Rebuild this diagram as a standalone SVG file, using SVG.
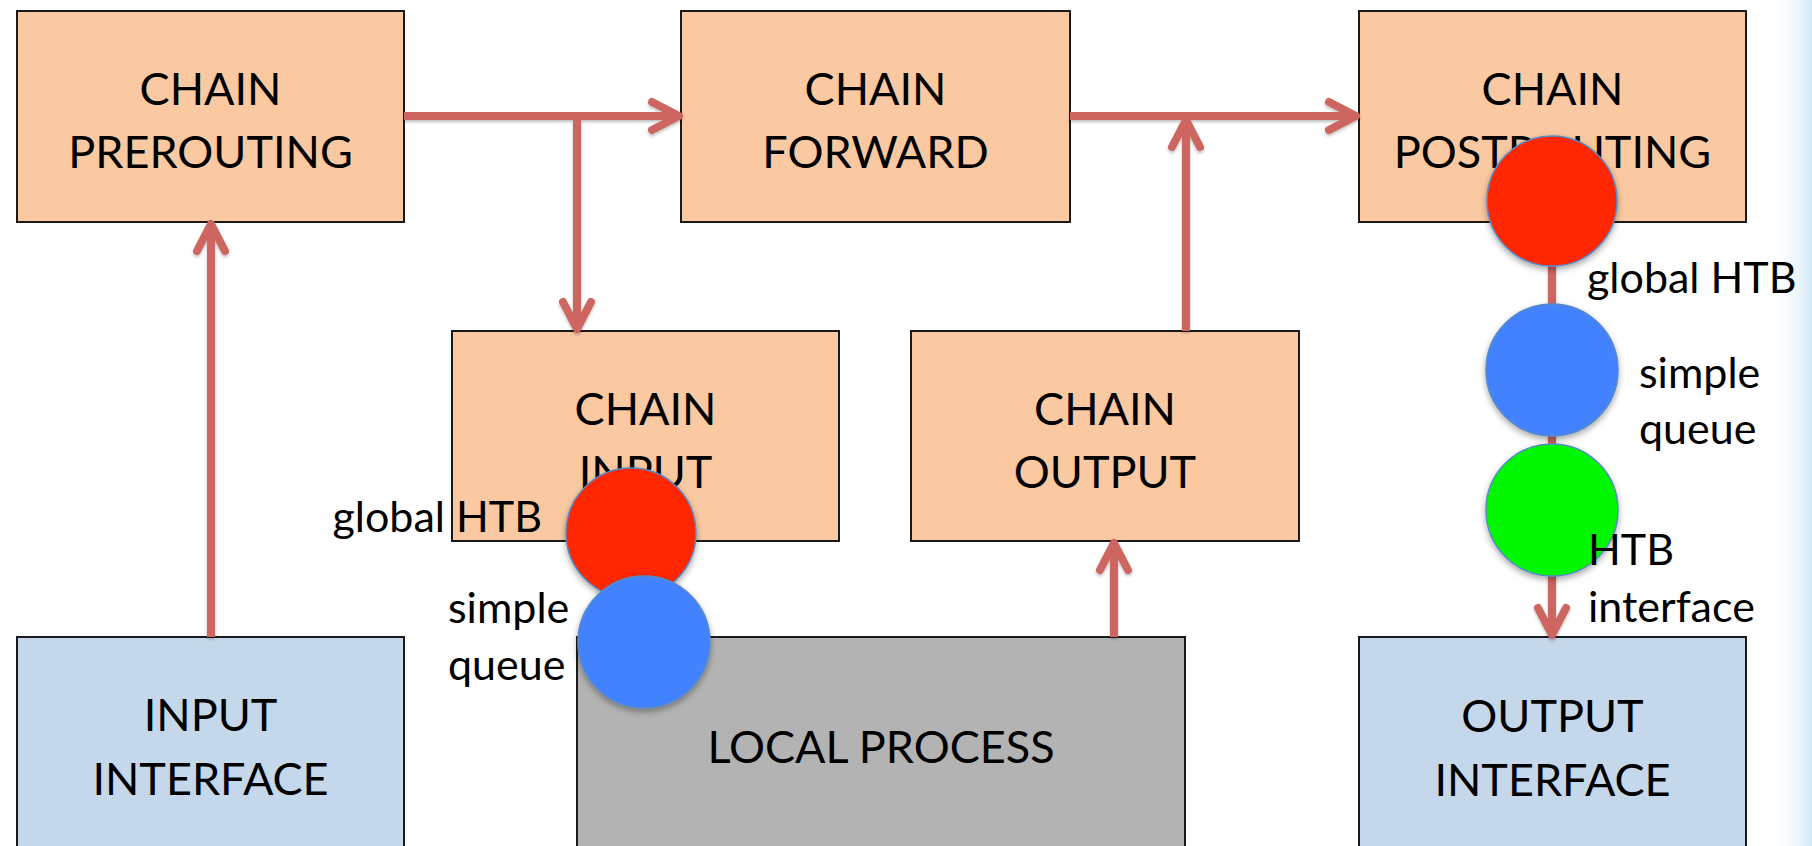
<svg xmlns="http://www.w3.org/2000/svg" width="1812" height="846" viewBox="0 0 1812 846">
  <style>
    .box { stroke: #1a1a1a; stroke-width: 2; }
    .chain { fill: #FAC9A1; }
    .iface { fill: #C5D8EB; }
    .proc { fill: #B3B3B3; }
    .label { font-family: Lato, "Open Sans", "Liberation Sans", sans-serif; font-size: 45px; fill: #000; text-anchor: middle; }
    .note { font-family: Lato, "Open Sans", "Liberation Sans", sans-serif; font-size: 43px; fill: #000; }
    .flow { fill: none; stroke: #CD6661; stroke-width: 8; }
    .dot { stroke: #5A8AC6; stroke-width: 1.5; }
  </style>
  <defs>
    <marker id="head" markerUnits="userSpaceOnUse" viewBox="-36 -22 42 44" refX="0" refY="0" markerWidth="42" markerHeight="44" orient="auto" overflow="visible">
      <path d="M-27,-14 L0,0 L-27,14" fill="none" stroke="#CD6661" stroke-width="8" stroke-linecap="round" stroke-linejoin="round"/>
    </marker>
    <filter id="lineShadow" x="-20%" y="-20%" width="140%" height="140%">
      <feDropShadow dx="0" dy="2" stdDeviation="1.5" flood-color="#000" flood-opacity="0.25"/>
    </filter>
    <filter id="dotShadow" x="-30%" y="-30%" width="160%" height="160%">
      <feDropShadow dx="0" dy="3" stdDeviation="3" flood-color="#000" flood-opacity="0.35"/>
    </filter>
    <linearGradient id="edgeHaze" x1="0" y1="0" x2="1" y2="0">
      <stop offset="0" stop-color="#FFFFFF" stop-opacity="0"/>
      <stop offset="1" stop-color="#D3E8F6"/>
    </linearGradient>
  </defs>

  <rect width="1812" height="846" fill="#FFFFFF"/>
  <rect x="1768" y="0" width="44" height="846" fill="url(#edgeHaze)"/>

  <!-- netfilter chains -->
  <g id="prerouting">
    <rect class="box chain" x="17" y="11" width="387" height="211"/>
    <text class="label" x="210.5" y="105">CHAIN</text>
    <text class="label" x="210.5" y="168">PREROUTING</text>
  </g>
  <g id="forward">
    <rect class="box chain" x="681" y="11" width="389" height="211"/>
    <text class="label" x="875.5" y="105">CHAIN</text>
    <text class="label" x="875.5" y="168">FORWARD</text>
  </g>
  <g id="postrouting">
    <rect class="box chain" x="1359" y="11" width="387" height="211"/>
    <text class="label" x="1552.5" y="105">CHAIN</text>
    <text class="label" x="1552.5" y="168">POSTROUTING</text>
  </g>
  <g id="input">
    <rect class="box chain" x="452" y="331" width="387" height="210"/>
    <text class="label" x="645.5" y="425">CHAIN</text>
    <text class="label" x="645.5" y="488">INPUT</text>
  </g>
  <g id="output">
    <rect class="box chain" x="911" y="331" width="388" height="210"/>
    <text class="label" x="1105" y="425">CHAIN</text>
    <text class="label" x="1105" y="488">OUTPUT</text>
  </g>

  <!-- interfaces and local process -->
  <g id="input-interface">
    <rect class="box iface" x="17" y="637" width="387" height="220"/>
    <text class="label" x="210.5" y="731">INPUT</text>
    <text class="label" x="210.5" y="795">INTERFACE</text>
  </g>
  <g id="local-process">
    <rect class="box proc" x="577" y="637" width="608" height="220"/>
    <text class="label" x="881" y="763">LOCAL PROCESS</text>
  </g>
  <g id="output-interface">
    <rect class="box iface" x="1359" y="637" width="387" height="220"/>
    <text class="label" x="1552.5" y="732">OUTPUT</text>
    <text class="label" x="1552.5" y="796">INTERFACE</text>
  </g>

  <!-- packet flow -->
  <g id="connectors" filter="url(#lineShadow)">
    <path class="flow" d="M211,637 V224" marker-end="url(#head)"/>
    <path class="flow" d="M404,116 H679" marker-end="url(#head)"/>
    <path class="flow" d="M577,116 V329" marker-end="url(#head)"/>
    <path class="flow" d="M1070,116 H1356" marker-end="url(#head)"/>
    <path class="flow" d="M1186,331 V120" marker-end="url(#head)"/>
    <path class="flow" d="M1114,637 V543" marker-end="url(#head)"/>
    <path class="flow" d="M1552,201 V635" marker-end="url(#head)"/>
  </g>

  <!-- queues on the input path -->
  <g id="input-global-htb">
    <text class="note" x="542" y="532" text-anchor="end">global HTB</text>
    <circle class="dot" cx="631" cy="533" r="65" fill="#FF2600" filter="url(#dotShadow)"/>
  </g>
  <g id="input-simple-queue">
    <circle class="dot" cx="644" cy="642" r="66" fill="#4382FF" filter="url(#dotShadow)"/>
    <text class="note" x="448" y="623">simple</text>
    <text class="note" x="448" y="680">queue</text>
  </g>

  <!-- queues on the output path -->
  <g id="output-global-htb">
    <circle class="dot" cx="1552" cy="201" r="65" fill="#FF2600" filter="url(#dotShadow)"/>
    <text class="note" x="1587" y="293">global HTB</text>
  </g>
  <g id="output-simple-queue">
    <circle class="dot" cx="1552" cy="370" r="66" fill="#4382FF" filter="url(#dotShadow)"/>
    <text class="note" x="1639" y="388">simple</text>
    <text class="note" x="1639" y="444">queue</text>
  </g>
  <g id="output-htb-interface">
    <circle class="dot" cx="1552" cy="510" r="66" fill="#00F700" filter="url(#dotShadow)"/>
    <text class="note" x="1588" y="565">HTB</text>
    <text class="note" x="1588" y="622">interface</text>
  </g>
</svg>
